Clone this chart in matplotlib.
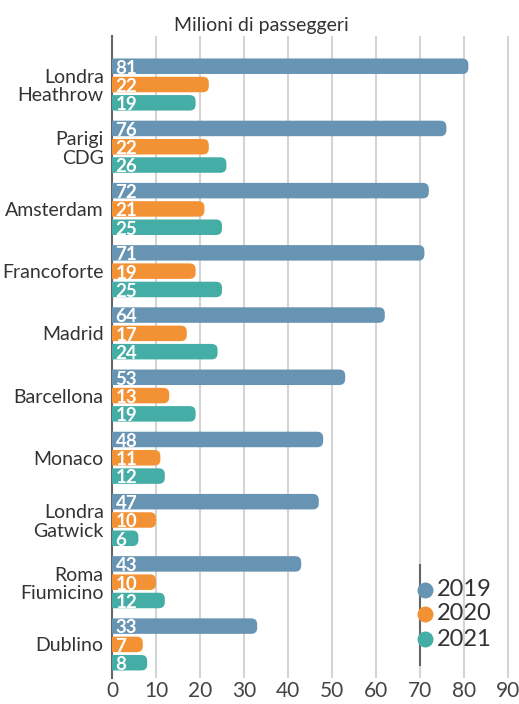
import matplotlib
matplotlib.use("Agg")
import matplotlib.pyplot as plt
from matplotlib.patches import FancyBboxPatch
from matplotlib.lines import Line2D

plt.rcParams['font.family'] = ['Lato', 'DejaVu Sans']

airports = ["Londra\nHeathrow", "Parigi\nCDG", "Amsterdam", "Francoforte", "Madrid",
            "Barcellona", "Monaco", "Londra\nGatwick", "Roma\nFiumicino", "Dublino"]
years = ["2019", "2020", "2021"]
v2019 = [81, 76, 72, 71, 62, 53, 48, 47, 43, 33]
v2020 = [22, 22, 21, 19, 17, 13, 11, 10, 10, 7]
v2021 = [19, 26, 25, 25, 24, 19, 12, 6, 12, 8]
lab2019 = ["81", "76", "72", "71", "64", "53", "48", "47", "43", "33"]
lab2020 = ["22", "22", "21", "19", "17", "13", "11", "10", "10", "7"]
lab2021 = ["19", "26", "25", "25", "24", "19", "12", "6", "12", "8"]
xticks = [0, 10, 20, 30, 40, 50, 60, 70, 80, 90]

colors = ["#6894b4", "#f39234", "#44ada5"]
series = [v2019, v2020, v2021]
labels = [lab2019, lab2020, lab2021]

W, H = 519, 704
fig = plt.figure(figsize=(W / 100, H / 100), dpi=100)
xmax = 91
px_per_x = 4.4
left_px, right_px = 112, 112 + xmax * px_per_x
top_px, bot_px = 36, 678
ax = fig.add_axes([left_px / W, 1 - bot_px / H, (right_px - left_px) / W, (bot_px - top_px) / H])

ymin_d, ymax_d = -0.78, 9.54
ax.set_xlim(0, xmax)
ax.set_ylim(ymax_d, ymin_d)
px_per_y = (bot_px - top_px) / (ymax_d - ymin_d)

step = 18.3 / px_per_y
bh = 15.5 / px_per_y
r_px = 6.0
aspect = (r_px / px_per_y) / (r_px / px_per_x)
for s, (vals, labs, col) in enumerate(zip(series, labels, colors)):
    for i, (v, lab) in enumerate(zip(vals, labs)):
        yc = i + (s - 1) * step
        p = FancyBboxPatch((-5, yc - bh / 2), v + 5, bh,
                           boxstyle=f"round,pad=0,rounding_size={r_px / px_per_x}",
                           mutation_aspect=aspect, facecolor=col, edgecolor='none',
                           zorder=3)
        ax.add_patch(p)
        ax.text(0.8, yc + 0.03, lab, color='white', fontweight='bold', fontsize=13.5,
                ha='left', va='center', zorder=4)

ax.set_yticks(range(len(airports)))
ax.set_yticklabels(airports, fontsize=14, color='#333333', linespacing=1.1)
ax.set_xticks(xticks)
ax.set_xticklabels([str(t) for t in xticks], fontsize=15, color='#444444')
ax.tick_params(axis='both', length=0)
ax.tick_params(axis='x', pad=2)
ax.tick_params(axis='y', pad=6)
ax.grid(axis='x', color='#d4d4d4', linewidth=1.5, zorder=0)
ax.set_axisbelow(True)
for sp in ['top', 'right', 'bottom']:
    ax.spines[sp].set_visible(False)
ax.spines['left'].set_color('#666666')
ax.spines['left'].set_linewidth(1.5)

fig.text(261 / W, 1 - 25 / H, "Milioni di passeggeri", ha='center', va='center',
         fontsize=14, color='#333333')

# legend (manual)
ax.axvline(70, ymin=(bot_px - 665) / (bot_px - top_px), ymax=(bot_px - 565) / (bot_px - top_px),
           color='#666666', linewidth=1.5, zorder=5)
leg_y = [590, 614, 639]
for yr, col, yp in zip(years, colors, leg_y):
    fig.add_artist(Line2D([424.5 / W], [1 - yp / H], marker='o', markersize=11.5,
                          markerfacecolor=col, markeredgecolor='none', linestyle='none',
                          transform=fig.transFigure, zorder=4))
    fig.text(437 / W, 1 - yp / H, yr, ha='left', va='center', fontsize=17, color='#333333')

fig.savefig("out.png", dpi=100)
